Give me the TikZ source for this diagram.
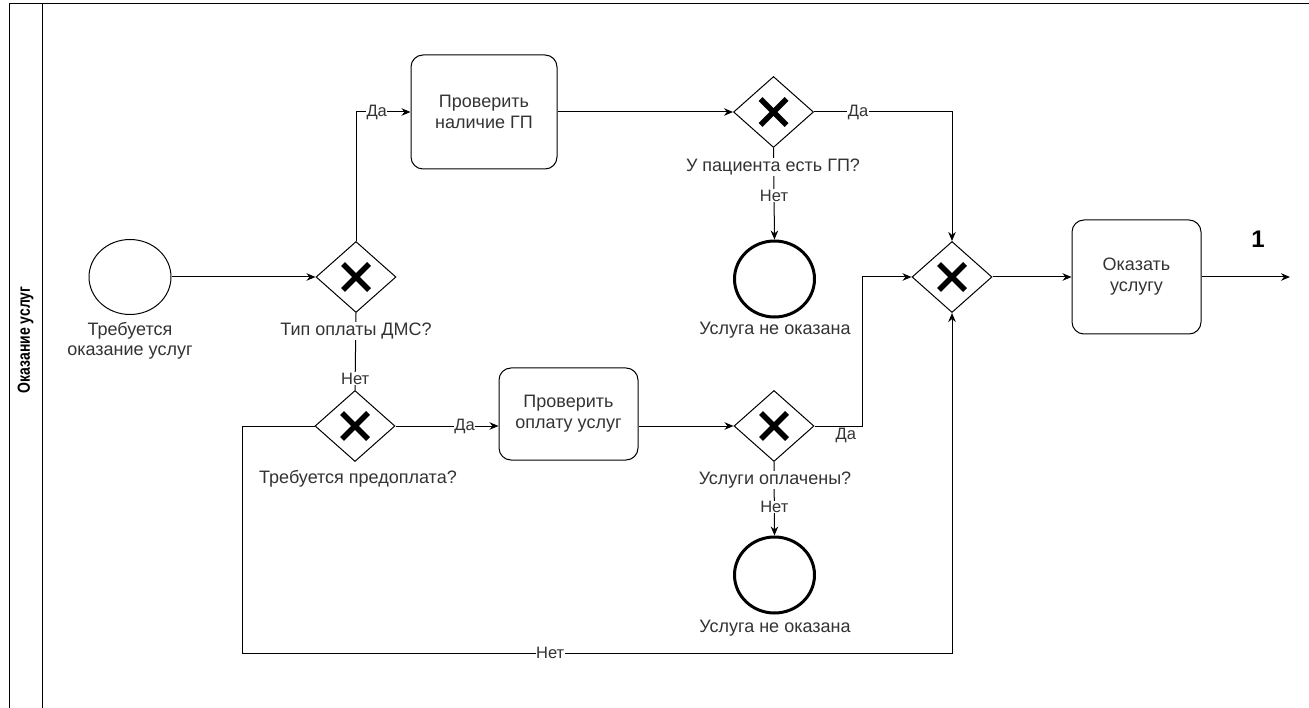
\documentclass[tikz,border=0pt]{standalone}
\usepackage{fontspec}
\setmainfont{Liberation Sans}
\usetikzlibrary{shapes.geometric,arrows.meta}
\definecolor{txt}{HTML}{333333}
\tikzset{
  flow/.style={line width=1pt,-{Stealth[length=9pt,width=7.5pt]}},
  plain/.style={line width=1pt},
  gateway/.style={diamond,draw,line width=1pt,minimum width=80pt,minimum height=71pt,inner sep=0pt,
    path picture={
      \draw[line width=5.5pt] ([shift={(-13pt,-13pt)}]path picture bounding box.center) -- ([shift={(13pt,13pt)}]path picture bounding box.center);
      \draw[line width=5.5pt] ([shift={(-13pt,13pt)}]path picture bounding box.center) -- ([shift={(13pt,-13pt)}]path picture bounding box.center);}},
  startev/.style={ellipse,draw,line width=1pt,minimum width=82pt,minimum height=75pt,inner sep=0pt},
  endev/.style={ellipse,draw,line width=3pt,minimum width=80pt,minimum height=76pt,inner sep=0pt},
  task/.style={rectangle,draw,line width=1pt,rounded corners=12pt,align=center,text=txt,
    font=\fontsize{18}{21}\selectfont,inner sep=0pt},
  caption/.style={fill=white,inner sep=1pt,align=center,text=txt,font=\fontsize{18}{19.5}\selectfont},
  elab/.style={fill=white,inner sep=0.5pt,text=txt,font=\fontsize{16.5}{18}\selectfont},
}
\begin{document}
\begin{tikzpicture}[x=1pt,y=-1pt]
\useasboundingbox (0,0) rectangle (1309,708);
% pool with its vertical title band
\draw[line width=1pt] (9.5,720) -- (9.5,4) -- (1320,4);
\draw[line width=1pt] (42,4) -- (42,720);
\node[rotate=90,font=\bfseries\fontsize{17.5}{19}\selectfont] (pooltitle) at (25.5,340) {\scalebox{0.8}[1]{Оказание услуг}};

% events, gateways and tasks
\node[startev] (start) at (130,277) {};
\node[gateway] (g1) at (356,277) {};
\node[task,minimum width=146pt,minimum height=114pt] (t1) at (484,112) {Проверить\\наличие ГП};
\node[gateway] (g2) at (773.5,112) {};
\node[endev] (e1) at (774.5,279) {};
\node[gateway] (g3) at (952,277) {};
\node[task,minimum width=129pt,minimum height=114pt] (t3) at (1136.5,277) {Оказать\\услугу};
\node[gateway] (g4) at (355,426) {};
\node[task,minimum width=139pt,minimum height=92pt] (t2) at (568.5,414) {Проверить\\оплату услуг};
\node[gateway] (g5) at (774,426) {};
\node[endev] (e2) at (774.5,575) {};

\coordinate (loop) at (242,653);
\coordinate (join) at (862,277);
\coordinate (out) at (1290,277);

% sequence flows
\draw[flow] (start) -- (g1);
\draw[flow] (g1.north) |- node[elab,pos=0.69] {Да} (t1.west);
\draw[flow] (t1.east) -- (g2.west);
\draw[flow] (g2.east) -| node[elab,pos=0.16] {Да} (g3.north);
\draw[flow] (g2.south) -- node[elab,pos=0.52] {Нет} (e1.north);
\draw[plain] (g1.south) -- node[elab,pos=0.85] {Нет} (g4.north);
\draw[flow] (g4.east) -- node[elab,pos=0.67] {Да} (g4.east -| t2.west);
\draw[flow] (g5.west -| t2.east) -- (g5.west);
\draw[flow] (g5.east) -| node[elab,pos=0.33,below,yshift=-1pt] {Да} (join) -- (g3.west);
\draw[flow] (g5.south) -- node[elab,pos=0.61] {Нет} (e2.north);
\draw[flow] (g4.west) -| (loop) -| node[elab,pos=0.217] {Нет} (g3.south);
\draw[flow] (g3.east) -- (t3.west);
\draw[flow] (t3.east) -- (out);
\node[font=\bfseries\fontsize{24}{26}\selectfont] (one) at (1258,239) {1};

% captions under the flow objects
\node[caption] (cstart) at (130,341) {Требуется\\оказание услуг};
\node[caption] (cg1) at (356,331) {Тип оплаты ДМС?};
\node[caption] (cg2) at (773,167) {У пациента есть ГП?};
\node[caption] (ce1) at (775,330) {Услуга не оказана};
\node[caption] (cg4) at (358,479) {Требуется предоплата?};
\node[caption] (cg5) at (775,480) {Услуги оплачены?};
\node[caption] (ce2) at (775,628) {Услуга не оказана};
\end{tikzpicture}
\end{document}
